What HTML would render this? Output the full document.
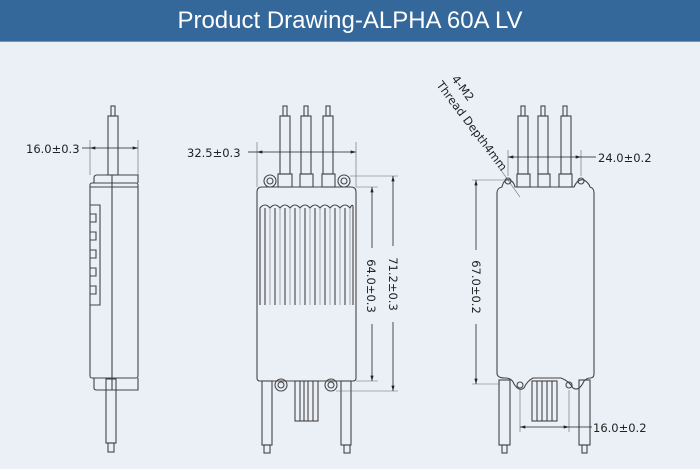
<!DOCTYPE html>
<html><head><style>
html,body{margin:0;padding:0;width:700px;height:469px;overflow:hidden;background:#ebf0f7;}
.bar{position:absolute;left:0;top:0;width:700px;height:41px;background:#34679a;border-bottom:1px solid #6f94bb;color:#fff;font-family:"Liberation Sans",sans-serif;font-size:24px;text-align:center;line-height:41px;}
svg{position:absolute;left:0;top:0}
text{font-family:"DejaVu Sans",sans-serif;fill:#222;font-size:11.5px}
</style></head><body>
<div class="bar">Product Drawing-ALPHA 60A LV</div>
<svg width="700" height="469" viewBox="0 0 700 469">
<defs>
<marker id="a" viewBox="0 0 10 6" refX="10" refY="3" markerWidth="8" markerHeight="4" orient="auto-start-reverse"><path d="M0,0L10,3L0,6z" fill="#222"/></marker>
</defs>
<g fill="none" stroke="#444" stroke-width="1.1">
<!-- side view -->
<rect x="111" y="106" width="4" height="10"/>
<rect x="108" y="116" width="10" height="59"/>
<path d="M94,183 V178 Q94,175 97,175 H138 V183"/>
<rect x="90" y="183" width="48" height="195" rx="2"/>
<line x1="90" y1="187" x2="138" y2="187"/>
<line x1="112" y1="175" x2="112" y2="390"/>
<path d="M90,205 H100 V305 H90"/>
<path d="M90,214 H96 V222 H90 M90,232 H96 V240 H90 M90,250 H96 V258 H90 M90,268 H96 V276 H90 M90,286 H96 V294 H90"/>
<path d="M94,378 V388 Q94,390 97,390 H138 V378"/>
<rect x="106" y="379" width="10" height="64"/>
<rect x="108" y="443" width="6" height="9"/>
<!-- middle -->
<rect x="283" y="106" width="4" height="10"/><rect x="304" y="106" width="4" height="10"/><rect x="326" y="106" width="4" height="10"/>
<rect x="280" y="116" width="10" height="58"/><rect x="301" y="116" width="10" height="58"/><rect x="323" y="116" width="10" height="58"/>
<rect x="278" y="174" width="14" height="13"/><rect x="300" y="174" width="13" height="13"/><rect x="322" y="174" width="13" height="13"/>
<path d="M257,378 V192 Q257,187 262,187 H351 Q356,187 356,192 V378 Q356,381 353,381 H260 Q257,381 257,378 Z"/>
<circle cx="270" cy="181" r="6"/><circle cx="270" cy="181" r="3"/>
<circle cx="344" cy="181" r="6"/><circle cx="344" cy="181" r="3"/>
<path d="M260,305 V208 q5,-6 10,0 q5,-6 10,0 q5,-6 10,0 q5,-6 10,0 q5,-6 10,0 q5,-6 10,0 q5,-6 10,0 q5,-6 10,0 q5,-6 10,0 q2,-4 3,-2 V305"/>
<path d="M265,208V305 M275,208V305 M285,208V305 M295,208V305 M305,208V305 M315,208V305 M325,208V305 M335,208V305 M345,208V305"/>
<path d="M270,208V305 M280,208V305 M290,208V305 M300,208V305 M310,208V305 M320,208V305 M330,208V305 M340,208V305 M350,208V305" stroke="#888" stroke-width="0.7"/>
<circle cx="281" cy="385" r="6"/><circle cx="281" cy="385" r="3"/>
<circle cx="331" cy="385" r="6"/><circle cx="331" cy="385" r="3"/>
<rect x="262" y="381" width="10" height="64"/><rect x="264" y="445" width="6" height="8"/>
<rect x="341" y="381" width="10" height="64"/><rect x="344" y="445" width="6" height="8"/>
<rect x="295" y="381" width="23" height="40"/>
<path d="M300,381V421 M304,381V421 M308,381V421 M313,381V421"/>
<!-- right -->
<rect x="521" y="106" width="4" height="10"/><rect x="541" y="106" width="4" height="10"/><rect x="563" y="106" width="4" height="10"/>
<rect x="518" y="116" width="10" height="58"/><rect x="538" y="116" width="10" height="58"/><rect x="561" y="116" width="10" height="58"/>
<rect x="517" y="174" width="13" height="13"/><rect x="538" y="174" width="12" height="13"/><rect x="559" y="174" width="13" height="13"/>
<path d="M515,187 H574 Q578,178 584,180 Q589,183 590,187 Q594,188 594,193 V374 Q594,378 590,378 Q587,378 584,381 Q579,392 573,388 Q569,381 561,378 H533 Q527,381 524,388 Q519,392 514,384 Q512,378 505,378 Q497,378 497,373 V193 Q497,188 502,187 Q504,178 510,180 Q514,182 515,187 Z"/>
<circle cx="508" cy="181" r="3"/><circle cx="581" cy="181" r="3"/>
<circle cx="520" cy="385" r="3"/><circle cx="569" cy="385" r="3"/>
<rect x="499" y="380" width="11" height="65"/><rect x="502" y="445" width="5" height="8"/>
<rect x="579" y="380" width="11" height="65"/><rect x="582" y="445" width="5" height="8"/>
<rect x="532" y="381" width="25" height="40"/>
<path d="M537,381V421 M542,381V421 M547,381V421 M552,381V421"/>
</g>
<g stroke="#666" stroke-width="0.6" fill="none">
<line x1="90" y1="140" x2="90" y2="175"/><line x1="138" y1="140" x2="138" y2="175"/>
<line x1="257" y1="142" x2="257" y2="187"/><line x1="356" y1="142" x2="356" y2="187"/>
<line x1="356" y1="187" x2="378" y2="187"/><line x1="350" y1="176" x2="398" y2="176"/>
<line x1="356" y1="381" x2="378" y2="381"/><line x1="336" y1="391" x2="398" y2="391"/>
<line x1="508" y1="150" x2="508" y2="176"/><line x1="581" y1="150" x2="581" y2="176"/>
<line x1="472" y1="180" x2="505" y2="180"/><line x1="472" y1="384" x2="500" y2="384"/>
<line x1="520" y1="390" x2="520" y2="432"/><line x1="569" y1="390" x2="569" y2="432"/>
<line x1="498" y1="166" x2="520" y2="197"/>
</g>
<g stroke="#222" stroke-width="0.8" fill="none">
<line x1="82" y1="148" x2="90" y2="148"/>
<line x1="90" y1="148" x2="138" y2="148" marker-start="url(#a)" marker-end="url(#a)"/>
<line x1="248" y1="152" x2="257" y2="152"/>
<line x1="257" y1="152" x2="356" y2="152" marker-start="url(#a)" marker-end="url(#a)"/>
<line x1="372" y1="187" x2="372" y2="381" marker-start="url(#a)" marker-end="url(#a)"/>
<line x1="393" y1="176" x2="393" y2="391" marker-start="url(#a)" marker-end="url(#a)"/>
<line x1="508" y1="157" x2="581" y2="157" marker-start="url(#a)" marker-end="url(#a)"/>
<line x1="581" y1="157" x2="596" y2="157"/>
<line x1="476" y1="180" x2="476" y2="384" marker-start="url(#a)" marker-end="url(#a)"/>
<line x1="520" y1="427" x2="569" y2="427" marker-start="url(#a)" marker-end="url(#a)"/>
<line x1="569" y1="427" x2="592" y2="427"/>
</g>
<g fill="#ebf0f7">
<rect x="366" y="248" width="12" height="76"/><rect x="387" y="246" width="12" height="76"/><rect x="470" y="250" width="12" height="74"/>
</g>
<text x="26" y="153">16.0±0.3</text>
<text x="187" y="157">32.5±0.3</text>
<text x="598" y="162">24.0±0.2</text>
<text x="593" y="432">16.0±0.2</text>
<text transform="translate(367,286) rotate(90)" text-anchor="middle">64.0±0.3</text>
<text transform="translate(389,284) rotate(90)" text-anchor="middle">71.2±0.3</text>
<text transform="translate(472,287) rotate(90)" text-anchor="middle">67.0±0.2</text>
<text transform="translate(451,79) rotate(53)" font-size="11">4-M2</text>
<text transform="translate(436,85) rotate(53)" font-size="10">Thread Depth4mm</text>
</svg>
</body></html>
